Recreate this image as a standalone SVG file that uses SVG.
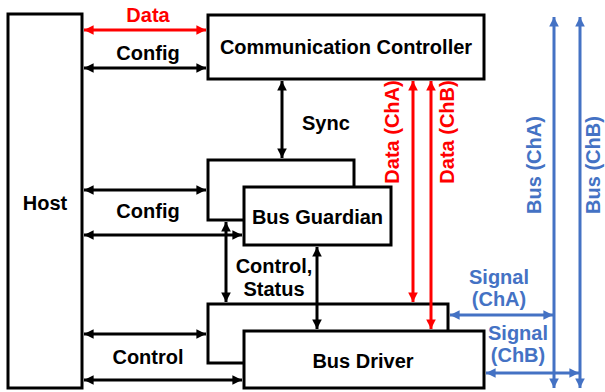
<svg xmlns="http://www.w3.org/2000/svg" width="605" height="392" viewBox="0 0 605 392">
  <style>
    .box { fill: #fff; stroke: #000; stroke-width: 3; }
    .lbl { font-family: "Liberation Sans", Arial, sans-serif; font-weight: bold; font-size: 20px; fill: #000; }
    .red { fill: #ff0000; }
    .blue { fill: #4472c4; }
    .ln { fill: none; stroke-width: 3; }
    .k { stroke: #000; }
    .r { stroke: #ff0000; }
    .b { stroke: #4472c4; }
  </style>
  <defs>
    <marker id="ak" viewBox="0 0 10 10" refX="10" refY="5" markerWidth="3.4" markerHeight="3.2" orient="auto-start-reverse" markerUnits="strokeWidth">
      <path d="M0,0 L10,5 L0,10 z" fill="#000"/>
    </marker>
    <marker id="ar" viewBox="0 0 10 10" refX="10" refY="5" markerWidth="3.4" markerHeight="3.2" orient="auto-start-reverse" markerUnits="strokeWidth">
      <path d="M0,0 L10,5 L0,10 z" fill="#ff0000"/>
    </marker>
    <marker id="ab" viewBox="0 0 10 10" refX="10" refY="5" markerWidth="3.4" markerHeight="3.2" orient="auto-start-reverse" markerUnits="strokeWidth">
      <path d="M0,0 L10,5 L0,10 z" fill="#4472c4"/>
    </marker>
  </defs>

  <g id="host">
    <rect class="box" x="8" y="14" width="74" height="374"/>
    <text class="lbl" x="45" y="210" text-anchor="middle">Host</text>
  </g>

  <g id="comm-controller">
    <rect class="box" x="208" y="15" width="276" height="64"/>
    <text class="lbl" x="346" y="54" text-anchor="middle">Communication Controller</text>
  </g>

  <g id="bus-guardian">
    <rect class="box" x="208" y="160" width="146" height="60"/>
    <rect class="box" x="244" y="187" width="147" height="58"/>
    <text class="lbl" x="317.5" y="224" text-anchor="middle">Bus Guardian</text>
  </g>

  <g id="bus-driver">
    <rect class="box" x="208" y="304" width="240" height="59"/>
    <rect class="box" x="244" y="331" width="240" height="57"/>
    <text class="lbl" x="363" y="368" text-anchor="middle">Bus Driver</text>
  </g>

  <g id="connectors">
    <!-- host links -->
    <line class="ln r" x1="84" y1="30" x2="206" y2="30" marker-start="url(#ar)" marker-end="url(#ar)"/>
    <line class="ln k" x1="84" y1="68" x2="206" y2="68" marker-start="url(#ak)" marker-end="url(#ak)"/>
    <line class="ln k" x1="84" y1="190" x2="206" y2="190" marker-start="url(#ak)" marker-end="url(#ak)"/>
    <line class="ln k" x1="84" y1="235" x2="242" y2="235" marker-start="url(#ak)" marker-end="url(#ak)"/>
    <line class="ln k" x1="84" y1="334" x2="206" y2="334" marker-start="url(#ak)" marker-end="url(#ak)"/>
    <line class="ln k" x1="84" y1="380" x2="242" y2="380" marker-start="url(#ak)" marker-end="url(#ak)"/>
    <!-- sync -->
    <line class="ln k" x1="282" y1="81" x2="282" y2="158" marker-start="url(#ak)" marker-end="url(#ak)"/>
    <!-- control / status -->
    <line class="ln k" x1="226" y1="222" x2="226" y2="302" marker-start="url(#ak)" marker-end="url(#ak)"/>
    <line class="ln k" x1="317" y1="247" x2="317" y2="329" marker-start="url(#ak)" marker-end="url(#ak)"/>
    <!-- data channels -->
    <line class="ln r" x1="413" y1="81" x2="413" y2="302" marker-start="url(#ar)" marker-end="url(#ar)"/>
    <line class="ln r" x1="431" y1="81" x2="431" y2="329" marker-start="url(#ar)" marker-end="url(#ar)"/>
    <!-- bus lines -->
    <line class="ln b" x1="554" y1="17" x2="554" y2="388" marker-start="url(#ab)" marker-end="url(#ab)"/>
    <line class="ln b" x1="580" y1="17" x2="580" y2="388" marker-start="url(#ab)" marker-end="url(#ab)"/>
    <!-- signals -->
    <line class="ln b" x1="450" y1="315" x2="553" y2="315" marker-start="url(#ab)" marker-end="url(#ab)"/>
    <line class="ln b" x1="486" y1="373" x2="579" y2="373" marker-start="url(#ab)" marker-end="url(#ab)"/>
  </g>

  <g id="labels">
    <text class="lbl red" x="148" y="22" text-anchor="middle">Data</text>
    <text class="lbl" x="148" y="60" text-anchor="middle">Config</text>
    <text class="lbl" x="148" y="218" text-anchor="middle">Config</text>
    <text class="lbl" x="148" y="364" text-anchor="middle">Control</text>
    <text class="lbl" x="302" y="130">Sync</text>
    <text class="lbl" x="274" y="273" text-anchor="middle">Control,</text>
    <text class="lbl" x="274" y="296" text-anchor="middle">Status</text>
    <text class="lbl red" transform="translate(399,132) rotate(-90)" text-anchor="middle">Data (ChA)</text>
    <text class="lbl red" transform="translate(454,132) rotate(-90)" text-anchor="middle">Data (ChB)</text>
    <text class="lbl blue" transform="translate(541,165) rotate(-90)" text-anchor="middle">Bus (ChA)</text>
    <text class="lbl blue" transform="translate(600,165) rotate(-90)" text-anchor="middle">Bus (ChB)</text>
    <text class="lbl blue" x="499" y="284" text-anchor="middle">Signal</text>
    <text class="lbl blue" x="499" y="306" text-anchor="middle">(ChA)</text>
    <text class="lbl blue" x="518" y="340" text-anchor="middle">Signal</text>
    <text class="lbl blue" x="518" y="362" text-anchor="middle">(ChB)</text>
  </g>
</svg>
